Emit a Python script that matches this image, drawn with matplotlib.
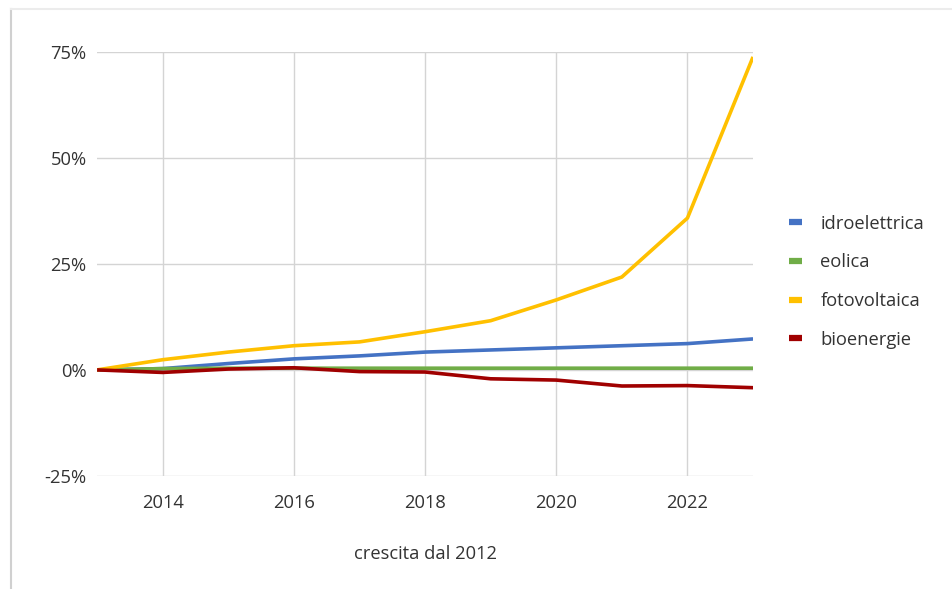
import matplotlib
matplotlib.use("Agg")
from matplotlib import pyplot as plt
from matplotlib.lines import Line2D
from matplotlib.ticker import FuncFormatter

years = [2013, 2014, 2015, 2016, 2017, 2018, 2019, 2020, 2021, 2022, 2023]
idroelettrica = [0.0, 0.3, 1.5, 2.6, 3.3, 4.2, 4.7, 5.2, 5.7, 6.2, 7.3]
eolica = [0.0, 0.3, 0.4, 0.4, 0.4, 0.4, 0.4, 0.4, 0.4, 0.4, 0.4]
fotovoltaica = [0.0, 2.4, 4.2, 5.7, 6.6, 9.0, 11.6, 16.5, 21.9, 35.8, 73.8]
bioenergie = [0.0, -0.6, 0.2, 0.5, -0.4, -0.5, -2.1, -2.4, -3.8, -3.7, -4.2]

series_names = ["idroelettrica", "eolica", "fotovoltaica", "bioenergie"]
series_colors = ["#4472C4", "#70AD47", "#FFC000", "#A00000"]

plt.rcParams["font.family"] = ["Open Sans", "DejaVu Sans"]
text_color = "#333333"

fig = plt.figure(figsize=(9.52, 5.89), dpi=100)
ax = fig.add_axes([0.102, 0.192, 0.689, 0.720])

for values, name, color in zip([idroelettrica, eolica, fotovoltaica, bioenergie], series_names, series_colors):
    ax.plot(years, values, color=color, linewidth=2.6, label=name, solid_capstyle="butt")

ax.set_xlim(2013, 2023)
ax.set_ylim(-25, 75)
ax.set_xticks([2014, 2016, 2018, 2020, 2022])
ax.set_yticks([-25, 0, 25, 50, 75])
ax.yaxis.set_major_formatter(FuncFormatter(lambda v, p: f"{v:.0f}%"))
ax.grid(True, color="#d4d4d4", linewidth=1.0)
ax.set_axisbelow(True)
for s in ax.spines.values():
    s.set_visible(False)
ax.tick_params(axis="both", length=0, labelsize=13.2, labelcolor=text_color)
ax.tick_params(axis="y", pad=7.5)
ax.tick_params(axis="x", pad=13)
ax.set_xlabel("crescita dal 2012", fontsize=13.2, color=text_color, labelpad=24)

leg = ax.legend(loc="center left", bbox_to_anchor=(1.03, 0.458), frameon=False,
                fontsize=13.2, handlelength=0.7, handletextpad=1.0, labelspacing=1.13)
for t in leg.get_texts():
    t.set_color(text_color)
for h in leg.get_lines():
    h.set_linewidth(4.5)

# faint frame of the original screenshot
fig.add_artist(Line2D([0.012, 0.012], [0.0, 0.985], transform=fig.transFigure, color="#d0d0d0", linewidth=1.5))
fig.add_artist(Line2D([0.012, 1.0], [0.985, 0.985], transform=fig.transFigure, color="#ececec", linewidth=1.5))

fig.savefig("out.png", dpi=100, facecolor="white")
